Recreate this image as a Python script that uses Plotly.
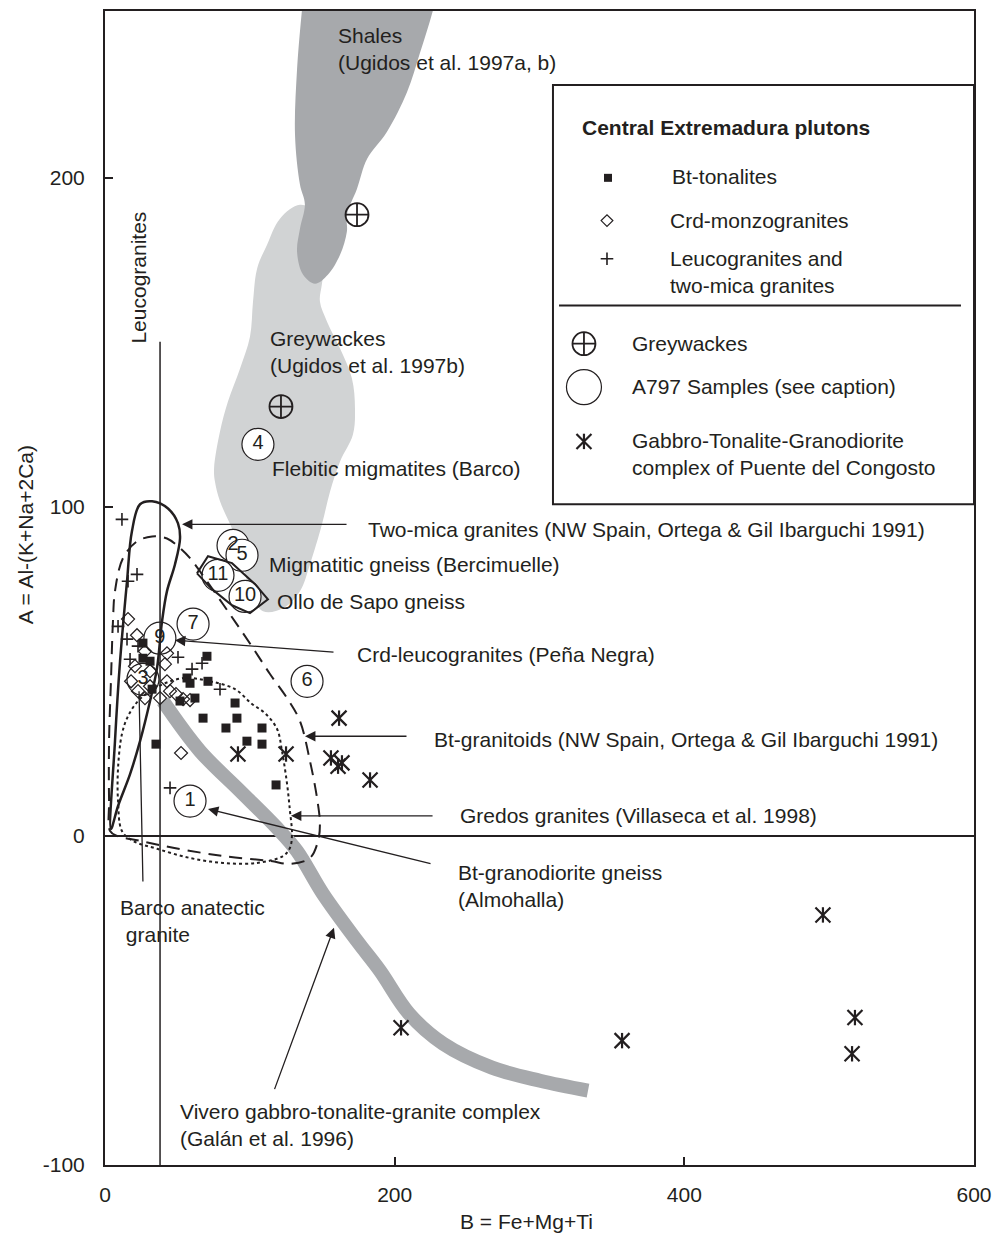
import plotly.graph_objects as go

FONT = "Liberation Sans, Arial, Helvetica, sans-serif"
INK = "#231f20"
DARK_GREY = "#a7a9ac"
LIGHT_GREY = "#d1d3d4"

# ---- Central Extremadura plutons (B = Fe+Mg+Ti, A = Al-(K+Na+2Ca)) ----
tonalite_b = [26.2, 26.2, 31.1, 32.5, 70.4, 56.6, 58.7, 71.1, 62.1, 51.8,
              89.8, 67.7, 91.1, 83.5, 108.4, 98.0, 108.4, 35.2, 118.1]
tonalite_a = [58.6, 54.0, 53.1, 44.6, 54.6, 48.0, 46.4, 47.0, 41.9, 41.0,
              40.4, 35.8, 35.8, 32.8, 32.8, 28.8, 27.9, 27.9, 15.5]

monzo_b = [15.9, 22.1, 27.6, 42.8, 41.4, 20.7, 31.1, 42.8, 22.8, 31.1,
           38.0, 44.9, 49.0, 53.9, 58.7, 27.6, 18.0, 52.5]
monzo_a = [65.9, 61.0, 56.1, 55.5, 52.2, 51.6, 50.1, 47.0, 44.0, 45.5,
           41.9, 44.0, 43.1, 41.6, 41.3, 41.9, 47.0, 25.2]

leuco_b = [11.7, 22.1, 15.9, 9.0, 15.2, 17.3, 22.8, 50.4, 67.0, 60.1, 79.4, 44.9]
leuco_a = [96.2, 79.5, 77.4, 63.7, 59.8, 53.7, 57.7, 54.3, 52.5, 50.7, 44.6, 14.6]

# ---- Gabbro-Tonalite-Granodiorite complex of Puente del Congosto ----
congosto_b = [161.6, 91.8, 125.0, 156.0, 160.9, 163.6, 183.0, 495.7, 517.8, 515.8, 357.0, 204.4]
congosto_a = [35.8, 24.9, 24.9, 23.7, 21.2, 22.2, 17.0, -24.0, -55.2, -66.2, -62.2, -58.3]

# ---- Greywackes ----
greywacke_b = [174.0, 121.5]
greywacke_a = [188.8, 130.5]

# ---- A797 samples ----
sample_ids = ["1", "2", "3", "4", "5", "6", "7", "9", "10", "11"]
sample_b = [58.7, 88.4, 26.2, 105.6, 94.6, 139.5, 60.8, 37.9, 96.7, 78.0]
sample_a = [10.6, 88.3, 47.6, 119.0, 85.3, 47.0, 64.4, 60.1, 72.8, 79.2]

# ---- Compositional fields ----
shales_b = [136.0, 132.6, 131.2, 134.6, 138.0, 134.6, 132.6, 136.7, 145.0, 154.0,
            162.3, 167.0, 167.0, 174.0, 181.0, 194.7, 208.5, 217.5, 226.5, 232.0, 134.0]
shales_a = [251.0, 233.0, 213.0, 198.0, 192.0, 184.5, 177.5, 170.6, 167.8, 170.6,
            176.6, 183.6, 188.8, 196.7, 205.8, 214.0, 226.0, 238.0, 251.0, 262.0, 262.0]

greywackes_field_b = [134.6, 147.1, 154.0, 149.8, 148.4, 153.3, 162.3, 170.5, 172.6, 171.2,
                      162.3, 155.4, 149.8, 141.5, 134.6, 122.9, 109.1, 100.1, 95.3, 88.4,
                      79.4, 75.9, 75.3, 79.4, 84.9, 93.2, 100.1, 102.2, 105.0, 111.9, 120.8, 134.6]
greywackes_field_a = [191.8, 189.1, 180.6, 167.8, 162.4, 156.3, 148.1, 139.0, 129.9, 122.0,
                      113.8, 104.7, 94.7, 82.5, 74.4, 69.2, 68.3, 74.4, 82.5, 92.6,
                      101.7, 107.7, 111.7, 122.9, 132.0, 142.0, 151.7, 162.4, 172.4, 179.7, 187.6, 191.8]

two_mica_b = [4.1, 6.9, 10.4, 15.2, 18.6, 24.2, 32.5, 43.5, 50.4, 51.8,
              48.3, 42.8, 39.4, 35.9, 31.1, 24.2, 17.3, 9.0, 4.1]
two_mica_a = [2.1, 28.8, 53.1, 77.4, 92.6, 100.8, 101.7, 99.5, 95.0, 90.4,
              82.5, 74.4, 65.3, 51.0, 41.0, 28.8, 18.8, 9.1, 2.1]

bt_granitoid_b = [3.5, 2.8, 2.8, 4.1, 5.5, 6.9, 12.4, 22.1, 32.5, 42.8, 50.4, 58.7, 70.4,
                  81.5, 91.1, 102.2, 113.9, 125.7, 134.6, 141.5, 146.4, 148.4, 147.1,
                  141.5, 127.7, 113.9, 81.5, 47.0, 24.2, 8.3, 3.5]
bt_granitoid_a = [1.5, 10.6, 28.8, 47.0, 65.3, 74.4, 84.4, 89.5, 91.0, 90.4, 88.0, 84.4, 77.4,
                  70.4, 64.3, 57.1, 49.2, 41.9, 34.9, 22.8, 11.5, 3.6, -1.5,
                  -6.7, -8.5, -7.6, -6.1, -3.6, -1.5, 0.0, 1.5]

gredos_b = [55.2, 72.5, 89.8, 101.5, 110.5, 118.8, 122.2, 125.7, 127.7, 129.1, 127.7, 122.9,
            105.0, 81.5, 58.7, 35.9, 19.3, 11.7, 9.0, 9.0, 11.7, 15.9, 22.8, 31.1, 41.4, 55.2]
gredos_a = [48.0, 47.0, 44.6, 40.1, 37.3, 32.5, 25.8, 15.8, 7.6, 0.6, -3.6, -6.1,
            -8.2, -8.2, -6.7, -3.9, -1.5, 1.5, 10.6, 20.6, 31.0, 36.4, 41.0, 44.0, 46.4, 48.0]

ollo_b = [63.5, 71.1, 87.7, 103.6, 112.5, 100.1, 87.7, 73.9, 63.5]
ollo_a = [79.8, 85.0, 82.9, 76.5, 71.9, 67.7, 70.1, 75.0, 79.8]

vivero_b = [40.0, 65.6, 93.2, 118.8, 132.6, 150.5, 174.0, 189.9, 209.9, 233.4, 267.2, 300.4, 333.5]
vivero_a = [41.0, 25.8, 13.7, 2.4, -4.6, -17.6, -31.9, -41.0, -54.0, -63.1, -70.4, -74.4, -77.4]

leuco_limit_b = [38.0, 38.0]
leuco_limit_a = [150.2, -100.0]

# axis ticks
x_ticks = [0, 200, 400, 600]
x_tick_labels = ["0", "200", "400", "600"]
y_ticks = [-100, 0, 100, 200]
y_tick_labels = ["-100", "0", "100", "200"]

fig = go.Figure()

# shaded source fields
fig.add_trace(go.Scatter(x=greywackes_field_b, y=greywackes_field_a, mode="lines",
                         fill="toself", fillcolor=LIGHT_GREY, line=dict(width=0, shape="spline"),
                         hoverinfo="skip"))
fig.add_trace(go.Scatter(x=shales_b, y=shales_a, mode="lines",
                         fill="toself", fillcolor=DARK_GREY, line=dict(width=0, shape="spline"),
                         hoverinfo="skip"))
# Vivero trend
fig.add_trace(go.Scatter(x=vivero_b, y=vivero_a, mode="lines",
                         line=dict(color=DARK_GREY, width=14, shape="spline"), hoverinfo="skip"))

# A797 samples
fig.add_trace(go.Scatter(x=sample_b, y=sample_a, mode="markers+text", text=sample_ids,
                         textposition="middle center",
                         textfont=dict(family=FONT, size=20, color=INK),
                         marker=dict(symbol="circle", size=32, color="white",
                                     line=dict(color=INK, width=1.2))))

# granite fields
fig.add_trace(go.Scatter(x=leuco_limit_b, y=leuco_limit_a, mode="lines",
                         line=dict(color=INK, width=1.5), hoverinfo="skip"))
fig.add_trace(go.Scatter(x=two_mica_b, y=two_mica_a, mode="lines",
                         line=dict(color=INK, width=2.5, shape="spline"), hoverinfo="skip"))
fig.add_trace(go.Scatter(x=bt_granitoid_b, y=bt_granitoid_a, mode="lines",
                         line=dict(color=INK, width=2, dash="13px,8px", shape="spline"),
                         hoverinfo="skip"))
fig.add_trace(go.Scatter(x=gredos_b, y=gredos_a, mode="lines",
                         line=dict(color=INK, width=2, dash="dot", shape="spline"),
                         hoverinfo="skip"))
fig.add_trace(go.Scatter(x=ollo_b, y=ollo_a, mode="lines",
                         line=dict(color=INK, width=2), hoverinfo="skip"))

# point data
fig.add_trace(go.Scatter(x=greywacke_b, y=greywacke_a, mode="markers",
                         marker=dict(symbol="circle-cross-open", size=23, color=INK,
                                     line=dict(width=1.8))))
fig.add_trace(go.Scatter(x=tonalite_b, y=tonalite_a, mode="markers",
                         marker=dict(symbol="square", size=9, color=INK, line=dict(width=0))))
fig.add_trace(go.Scatter(x=monzo_b, y=monzo_a, mode="markers",
                         marker=dict(symbol="diamond-open", size=10, color=INK,
                                     line=dict(width=1.2))))
fig.add_trace(go.Scatter(x=leuco_b, y=leuco_a, mode="markers",
                         marker=dict(symbol="cross-thin-open", size=9, color=INK,
                                     line=dict(width=1.6))))
# six-armed asterisk = diagonal cross + vertical bar
for sym, sz in (("x-thin-open", 15), ("line-ns-open", 11)):
    fig.add_trace(go.Scatter(x=congosto_b, y=congosto_a, mode="markers",
                             marker=dict(symbol=sym, size=sz, color=INK, line=dict(width=2.2))))

# ---- legend panel ----
legend_marks = [
    (347.3, 200.0, "square", 8, 0),
    (346.6, 187.0, "diamond-open", 9, 1.2),
    (346.6, 175.4, "cross-thin-open", 9, 1.6),
    (330.7, 149.6, "circle-cross-open", 23, 1.8),
    (330.7, 136.4, "circle-open", 35, 1.2),
    (330.7, 119.9, "x-thin-open", 15, 2.2),
    (330.7, 119.9, "line-ns-open", 11, 2.2),
]
for lx, ly, sym, sz, lw in legend_marks:
    fig.add_trace(go.Scatter(x=[lx], y=[ly], mode="markers",
                             marker=dict(symbol=sym, size=sz, color=INK, line=dict(width=lw, color=INK))))

shapes = [
    dict(type="rect", xref="x", yref="y", x0=309.3, x1=600, y0=100.8, y1=228.2,
         line=dict(color=INK, width=2), fillcolor="white", layer="below"),
    dict(type="line", xref="x", yref="y", x0=313.5, x1=591, y0=161.2, y1=161.2,
         line=dict(color=INK, width=2)),
]


def text(x, y, s, **kw):
    base = dict(x=x, y=y, xref="x", yref="y", text=s, showarrow=False,
                xanchor="left", yanchor="middle", align="left",
                font=dict(family=FONT, size=21, color=INK))
    base.update(kw)
    return base


def pointer(tip_x, tip_y, tail_x, tail_y, head=2):
    return dict(x=tip_x, y=tip_y, ax=tail_x, ay=tail_y, xref="x", yref="y",
                axref="x", ayref="y", text="", showarrow=True, arrowhead=head,
                arrowsize=1.6, arrowwidth=1.3, arrowcolor=INK, standoff=0, startstandoff=0)


annotations = [
    text(328.0, 215.2, "<b>Central Extremadura plutons</b>"),
    text(390.1, 200.3, "Bt-tonalites"),
    text(388.7, 187.0, "Crd-monzogranites"),
    text(388.7, 171.5, "Leucogranites and<br>two-mica granites"),
    text(362.5, 149.6, "Greywackes"),
    text(362.5, 136.6, "A797 Samples (see caption)"),
    text(362.5, 116.2, "Gabbro-Tonalite-Granodiorite<br>complex of Puente del Congosto"),

    text(159.5, 239.2, "Shales<br>(Ugidos et al. 1997a, b)"),
    text(112.5, 147.2, "Greywackes<br>(Ugidos et al. 1997b)"),
    text(113.9, 111.7, "Flebitic migmatites (Barco)"),
    text(111.9, 82.5, "Migmatitic gneiss (Bercimuelle)"),
    text(117.4, 71.3, "Ollo de Sapo gneiss"),
    text(180.2, 93.2, "Two-mica granites (NW Spain, Ortega &amp; Gil Ibarguchi 1991)"),
    text(172.6, 55.2, "Crd-leucogranites (Peña Negra)"),
    text(225.8, 29.4, "Bt-granitoids (NW Spain, Ortega &amp; Gil Ibarguchi 1991)"),
    text(243.7, 6.1, "Gredos granites (Villaseca et al. 1998)"),
    text(242.4, -15.2, "Bt-granodiorite gneiss<br>(Almohalla)"),
    text(9.0, -25.8, "Barco anatectic<br>\u00a0granite"),
    text(50.4, -87.7, "Vivero gabbro-tonalite-granite complex<br>(Galán et al. 1996)"),
    text(23.5, 169.7, "Leucogranites", xanchor="center", textangle=-90),

    pointer(53.2, 94.7, 167.8, 94.7),
    pointer(48.3, 59.5, 158.8, 55.8),
    pointer(138.1, 30.3, 209.2, 30.3),
    pointer(128.4, 6.1, 227.2, 6.1),
    pointer(71.1, 8.2, 225.8, -8.5),
    pointer(158.1, -27.9, 116.7, -77.4),
    pointer(23.5, 44.0, 26.2, -14.3, head=0),

    dict(x=0.4856, y=-0.0493, xref="paper", yref="paper", text="B = Fe+Mg+Ti",
         showarrow=False, xanchor="center", yanchor="middle",
         font=dict(family=FONT, size=21, color=INK)),
    dict(x=-0.092, y=0.5458, xref="paper", yref="paper", text="A = Al-(K+Na+2Ca)",
         showarrow=False, xanchor="center", yanchor="middle", textangle=-90,
         font=dict(family=FONT, size=21, color=INK)),
]

fig.update_layout(
    width=1002, height=1234,
    margin=dict(l=105, r=28, t=9, b=69),
    paper_bgcolor="white", plot_bgcolor="white",
    showlegend=False,
    font=dict(family=FONT, size=21, color=INK),
    shapes=shapes, annotations=annotations,
    xaxis=dict(range=[0, 600], tickvals=x_ticks, ticktext=x_tick_labels,
               ticks="inside", ticklen=8,
               tickwidth=1.5, tickcolor=INK, showline=True, linecolor=INK, linewidth=2,
               mirror=True, showgrid=False, zeroline=False, ticklabelstandoff=10,
               tickfont=dict(family=FONT, size=21, color=INK)),
    yaxis=dict(range=[-100, 250.7], tickvals=y_ticks, ticktext=y_tick_labels,
               ticks="inside", ticklen=8,
               tickwidth=1.5, tickcolor=INK, showline=True, linecolor=INK, linewidth=2,
               mirror=True, showgrid=False, zeroline=True, zerolinecolor=INK,
               zerolinewidth=2, ticklabelstandoff=14,
               tickfont=dict(family=FONT, size=21, color=INK)),
)

fig.write_html("out.html")
